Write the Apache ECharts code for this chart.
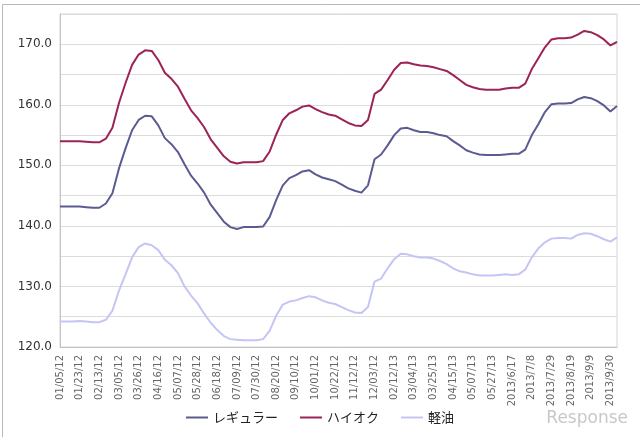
<!DOCTYPE html>
<html>
<head>
<meta charset="utf-8">
<script src="https://cdn.jsdelivr.net/npm/echarts@6/dist/echarts.min.js"></script>
<style>
  html, body { margin: 0; padding: 0; background: #fff; }
  #main { width: 640px; height: 437px; }
</style>
</head>
<body>
<div id="main"></div>
<script>
// x軸ラベル（3週ごと）
const tickLabels = ['01/05/12', '01/23/12', '02/13/12', '03/05/12', '03/26/12', '04/16/12', '05/07/12', '05/28/12',
  '06/18/12', '07/09/12', '07/30/12', '08/20/12', '09/10/12', '10/01/12', '10/22/12', '11/12/12', '12/03/12',
  '02/12/13', '03/04/13', '03/25/13', '04/15/13', '05/07/13', '05/27/13', '2013/6/17', '2013/7/8', '2013/7/29',
  '2013/8/19', '2013/9/9', '2013/9/30']

const regular = [143.2, 143.2, 143.2, 143.2, 143.1, 143.0, 143.0, 143.7, 145.4, 149.5, 152.8, 155.8, 157.5, 158.2, 158.1,
  156.6, 154.5, 153.5, 152.2, 150.2, 148.3, 147.0, 145.5, 143.5, 142.1, 140.7, 139.8, 139.5, 139.8, 139.8,
  139.8, 139.9, 141.5, 144.3, 146.7, 147.9, 148.4, 149.0, 149.2, 148.5, 148.0, 147.7, 147.4, 146.8, 146.2,
  145.8, 145.5, 146.7, 151.0, 151.8, 153.3, 155.0, 156.1, 156.2, 155.8, 155.5, 155.5, 155.3, 155.0, 154.8,
  154.0, 153.3, 152.5, 152.1, 151.8, 151.7, 151.7, 151.7, 151.8, 151.9, 151.9, 152.6, 155.0, 156.8, 158.8,
  160.1, 160.2, 160.2, 160.3, 160.9, 161.3, 161.1, 160.6, 159.9, 158.9, 159.8]

const highOctane = [154.0, 154.0, 154.0, 154.0, 153.9, 153.8, 153.8, 154.4, 156.2, 160.3, 163.6, 166.6, 168.3, 169.0, 168.9,
  167.4, 165.3, 164.3, 163.0, 161.0, 159.1, 157.8, 156.3, 154.3, 152.9, 151.5, 150.6, 150.3, 150.5, 150.5,
  150.5, 150.7, 152.3, 155.1, 157.5, 158.6, 159.1, 159.7, 159.9, 159.3, 158.8, 158.4, 158.2, 157.6, 157.0,
  156.6, 156.5, 157.5, 161.8, 162.5, 164.1, 165.8, 166.9, 167.0, 166.7, 166.5, 166.4, 166.2, 165.9, 165.6,
  164.9, 164.1, 163.3, 162.9, 162.6, 162.5, 162.5, 162.5, 162.7, 162.8, 162.8, 163.5, 165.9, 167.7, 169.5,
  170.8, 171.0, 171.0, 171.1, 171.6, 172.2, 172.0, 171.5, 170.8, 169.8, 170.4]

const diesel = [124.2, 124.2, 124.2, 124.3, 124.2, 124.1, 124.1, 124.5, 126.0, 129.3, 132.0, 134.8, 136.5, 137.1, 136.8,
  136.0, 134.4, 133.5, 132.2, 130.0, 128.5, 127.2, 125.5, 124.0, 122.8, 121.8, 121.3, 121.2, 121.1, 121.1,
  121.1, 121.3, 122.7, 125.2, 127.0, 127.5, 127.7, 128.1, 128.4, 128.2, 127.7, 127.3, 127.1, 126.6, 126.1,
  125.7, 125.6, 126.6, 130.8, 131.3, 133.0, 134.5, 135.4, 135.3, 135.0, 134.8, 134.8, 134.6, 134.2, 133.7,
  133.0, 132.5, 132.3, 132.0, 131.8, 131.8, 131.8, 131.9, 132.0, 131.9, 132.0, 132.8, 134.8, 136.3, 137.3,
  137.9, 138.0, 138.0, 137.9, 138.5, 138.8, 138.7, 138.3, 137.8, 137.4, 138.1]

// 週ごとのカテゴリ、3週ごとにラベル
const categories = regular.map(function (v, i) {
  return i % 3 === 0 ? tickLabels[i / 3] : '';
});

const chart = echarts.init(document.getElementById('main'));
const lineSeries = function (name, data, color) {
  return {
    name: name,
    type: 'line',
    data: data,
    showSymbol: false,
    color: color,
    lineStyle: { width: 2, color: color }
  }
}
const option = {
  animation: false,
  textStyle: { fontFamily: 'Noto Sans CJK JP' },
  grid: {
    left: 60, right: 23, top: 14, bottom: 90,
    show: true, borderColor: '#d4d4d4', borderWidth: 1
  },
  legend: {
    bottom: 8,
    left: 'center',
    itemWidth: 22,
    itemHeight: 2,
    itemGap: 22,
    icon: 'rect',
    textStyle: { fontSize: 13, color: '#222' },
    data: ['レギュラー', 'ハイオク', '軽油']
  },
  xAxis: {
    type: 'category',
    data: categories,
    boundaryGap: false,
    axisTick: { show: false },
    axisLine: { lineStyle: { color: '#c4c4c4' } },
    axisLabel: {
      interval: 0,
      rotate: 90,
      fontSize: 10,
      color: '#666',
      fontFamily: 'DejaVu Sans'
    }
  },
  yAxis: {
    type: 'value',
    min: 120,
    max: 175,
    interval: 5,
    axisTick: { show: false },
    axisLine: { show: true, lineStyle: { color: '#c4c4c4' } },
    splitLine: { lineStyle: { color: '#dcdcdc', width: 1 } },
    axisLabel: {
      fontSize: 12,
      color: '#333',
      fontFamily: 'DejaVu Sans',
      formatter: function (v) {
        return (v % 10 === 0 && v < 175) ? v.toFixed(1) : '';
      }
    }
  },
  graphic: [{
    type: 'rect',
    left: 0, top: 2,
    shape: { width: 639, height: 434 },
    style: { fill: 'none', stroke: '#b8b8b8', lineWidth: 1 },
    silent: true
  }, {
    type: 'text',
    right: 12,
    bottom: 10,
    style: { text: 'Response', fontSize: 17, fill: '#c8c8c8', fontFamily: 'DejaVu Sans' }
  }],
  series: [
    lineSeries('レギュラー', regular, '#5b5b91'),
    lineSeries('ハイオク', highOctane, '#9c2357'),
    lineSeries('軽油', diesel, '#c5c5f5')
  ]
};
chart.setOption(option);
</script>
</body>
</html>
